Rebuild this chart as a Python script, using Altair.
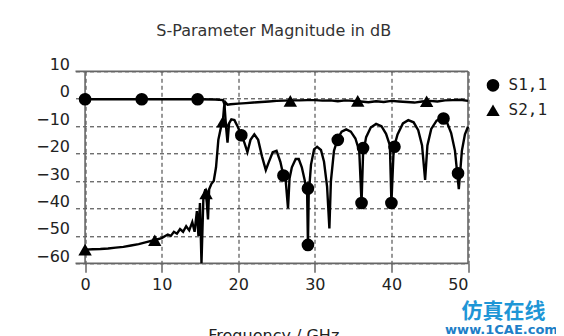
import altair as alt
import pandas as pd

# ---------------- data ----------------
s21_freq = [0, 1, 2, 3, 4, 5, 6, 7, 8, 9, 10, 10.8, 11.2, 11.6, 12.0, 12.4, 12.8, 13.2, 13.6,
            14.0, 14.3, 14.6, 14.8, 15.0, 15.2, 15.45, 15.7, 15.9, 16.05, 16.2, 16.5, 16.8,
            17.1, 17.4, 17.7, 18.0, 18.15, 18.3, 18.6, 19.0, 20, 21, 22, 23, 24, 25, 26, 27,
            28, 29, 30, 31, 32, 33, 34, 35, 36, 37, 38, 39, 40, 41, 42, 43, 44, 45, 46, 47,
            48, 49, 50]
s21_db = [-55, -54.9, -54.8, -54.6, -54.3, -54, -53.5, -53, -52.3, -51.6, -50.8, -49.5, -50,
          -48.5, -49.2, -47.5, -48.5, -46.5, -48, -45, -48.5, -41, -50, -38, -60, -36, -33,
          -38, -44, -33, -31, -30, -25, -15, -11, -8, -3, -1.2, -2.2, -2.0, -1.8, -1.6, -1.4,
          -1.2, -1.0, -0.8, -0.7, -0.6, -0.6, -0.5, -0.5, -0.7, -0.6, -0.9, -0.6, -0.8, -1.0,
          -1.3, -0.9, -1.2, -0.8, -1.0, -1.2, -1.4, -1.0, -0.8, -1.0, -0.6, -0.5, -0.4, -0.8]

s11_freq = [0, 5, 10, 15, 17, 18.0, 18.2, 18.4, 18.6, 18.8, 19.1, 19.5, 19.9, 20.4, 20.8,
            21.2, 21.6, 22.1, 22.6, 23.1, 23.6, 24.0, 24.5, 25.0, 25.5, 25.9, 26.2, 26.5,
            26.7, 27.0, 27.5, 27.9, 28.3, 28.7, 29.0, 29.1, 29.2, 29.5, 29.9, 30.3, 30.8,
            31.2, 31.6, 31.9, 32.1, 32.5, 33.0, 33.5, 34.1, 34.7, 35.3, 35.8, 36.1, 36.3,
            36.7, 37.3, 38.0, 38.7, 39.3, 39.8, 40.0, 40.3, 40.8, 41.5, 42.2, 42.9, 43.5,
            44.0, 44.4, 44.7, 45.2, 45.9, 46.6, 47.2, 47.8, 48.3, 48.8, 49.2, 49.6, 50]
s11_db = [-0.2, -0.2, -0.2, -0.2, -0.3, -0.5, -2, -10, -16, -9, -7.5, -7.8, -10, -13.3, -16,
          -19.5, -15, -13, -15, -21, -26, -23, -19.5, -19, -23, -28, -30, -40, -29, -25, -22,
          -22, -25, -30, -35, -53.3, -35, -24, -18.5, -17.5, -18.7, -23, -32, -47.3, -30,
          -19, -14.5, -12, -11.2, -12, -14.5, -19, -38, -20, -14, -10.5, -9.2, -10, -12.8,
          -17, -38, -18, -13, -9, -7.8, -8.6, -11.5, -17, -29.6, -17, -11, -8, -7, -8.2,
          -12.5, -19, -33, -19, -13, -10.2]

s11_mark_freq = [0, 7.4, 14.7, 20.4, 25.9, 29.1, 29.1, 33.0, 36.3, 36.1, 40.4, 40.0, 46.8, 48.7]
s11_mark_db = [-0.2, -0.2, -0.2, -13.3, -28, -32.7, -53.3, -15, -18, -38, -17.5, -38, -7.2, -27.2]

s21_mark_freq = [0, 9.1, 15.8, 18.0, 26.8, 35.6, 44.6]
s21_mark_db = [-55, -51.6, -34.5, -8.4, -0.8, -0.8, -0.9]

x_ticks = [0, 10, 20, 30, 40, 50]
y_ticks = [10, 0, -10, -20, -30, -40, -50, -60]
x_domain = [-1.25, 50]
y_domain = [-60, 10]

legend_labels = ["S1,1", "S2,1"]
title_text = "S-Parameter Magnitude in dB"
x_title_text = "Frequency / GHz"
wm_cn = "仿真在线"
wm_en = "www.1CAE.com"

# ---------------- chart ----------------
W, H = 392.5, 192
FONT = "DejaVu Sans"
GRID = "#333333"
FRAME = "#666666"

xs = alt.Scale(domain=x_domain, nice=False, zero=False)
ys = alt.Scale(domain=y_domain, nice=False, zero=False)
xaxis = alt.Axis(values=x_ticks, grid=True, gridDash=[4, 3], gridColor=GRID, gridWidth=1,
                 domain=False, ticks=True, tickSize=9, tickColor=FRAME, tickWidth=1.5,
                 labelFont=FONT, labelFontSize=16, labelColor="#222222", labelPadding=4,
                 title=None)
yaxis = alt.Axis(values=y_ticks, grid=True, gridDash=[4, 3], gridColor=GRID, gridWidth=1,
                 domain=False, ticks=False, labelFont=FONT, labelFontSize=16,
                 labelColor="#222222", labelPadding=6, labelOffset=-7, title=None)


def X(field):
    return alt.X(field, type="quantitative", scale=xs, axis=xaxis)


def Y(field):
    return alt.Y(field, type="quantitative", scale=ys, axis=yaxis)


s11_df = pd.DataFrame({"f": s11_freq, "db": s11_db, "i": range(len(s11_freq))})
s21_df = pd.DataFrame({"f": s21_freq, "db": s21_db, "i": range(len(s21_freq))})
s11_m = pd.DataFrame({"f": s11_mark_freq, "db": s11_mark_db})
s21_m = pd.DataFrame({"f": s21_mark_freq, "db": s21_mark_db})

hframe = pd.DataFrame({"x1": [x_domain[0]] * 2, "x2": [x_domain[1]] * 2, "y": y_domain})
vframe = pd.DataFrame({"x": [0, x_domain[1]], "y1": [y_domain[0]] * 2, "y2": [y_domain[1]] * 2})

frame_h = alt.Chart(hframe).mark_rule(color=FRAME, strokeWidth=1.8).encode(
    x=X("x1"), x2="x2", y=Y("y"))
frame_v = alt.Chart(vframe).mark_rule(color=FRAME, strokeWidth=1.6).encode(
    x=X("x"), y=Y("y1"), y2="y2")

line21 = alt.Chart(s21_df).mark_line(color="black", strokeWidth=2.4).encode(
    x=X("f"), y=Y("db"), order="i:Q")
line11 = alt.Chart(s11_df).mark_line(color="black", strokeWidth=2.4).encode(
    x=X("f"), y=Y("db"), order="i:Q")
pts11 = alt.Chart(s11_m).mark_point(shape="circle", filled=True, opacity=1, size=160,
                                    color="black").encode(x=X("f"), y=Y("db"))
pts21 = alt.Chart(s21_m).mark_point(shape="triangle-up", filled=True, opacity=1, size=180,
                                    color="black").encode(x=X("f"), y=Y("db"))

leg1 = pd.DataFrame({"t": [legend_labels[0]]})
leg2 = pd.DataFrame({"t": [legend_labels[1]]})
leg_c = alt.Chart(leg1).mark_point(
    shape="circle", filled=True, opacity=1, size=160, color="black").encode(
    x=alt.value(417.5), y=alt.value(14))
leg_t = alt.Chart(leg2).mark_point(
    shape="triangle-up", filled=True, opacity=1, size=180, color="black").encode(
    x=alt.value(417.5), y=alt.value(39))
leg_txt1 = alt.Chart(leg1).mark_text(
    font="DejaVu Sans Mono", fontSize=16, color="#222222", align="left",
    baseline="middle").encode(text="t:N", x=alt.value(433), y=alt.value(14))
leg_txt2 = alt.Chart(leg2).mark_text(
    font="DejaVu Sans Mono", fontSize=16, color="#222222", align="left",
    baseline="middle").encode(text="t:N", x=alt.value(433), y=alt.value(39))

title = alt.Chart(pd.DataFrame({"t": [title_text]})).mark_text(
    font=FONT, fontSize=16, color="#333333", align="center",
    baseline="alphabetic").encode(text="t:N", x=alt.value(W / 2 + 2), y=alt.value(-35))
xt = alt.Chart(pd.DataFrame({"t": [x_title_text]})).mark_text(
    font=FONT, fontSize=16, color="#222222", align="center", baseline="top").encode(
    text="t:N", x=alt.value(W / 2 + 2), y=alt.value(257))
wm1 = alt.Chart(pd.DataFrame({"t": [wm_cn]})).mark_text(
    font="Noto Sans CJK SC", fontSize=21, fontWeight="bold", color="#1e96d6",
    align="center", baseline="alphabetic").encode(
    text="t:N", x=alt.value(428), y=alt.value(246.5))
wm2 = alt.Chart(pd.DataFrame({"t": [wm_en]})).mark_text(
    font=FONT, fontSize=13, fontWeight="bold", color="#1e7fc8",
    align="center", baseline="alphabetic").encode(
    text="t:N", x=alt.value(426), y=alt.value(262.5))

chart = alt.layer(frame_h, frame_v, line21, line11, pts11, pts21,
                  leg_c, leg_t, leg_txt1, leg_txt2, title, xt, wm1, wm2).properties(
    width=W, height=H,
    padding={"left": 67.5, "top": 63.3, "right": 88, "bottom": 72.7},
    autosize=alt.AutoSizeParams(type="none"),
    background="white",
).configure_view(strokeWidth=0)

chart.save("out.html", embed_options={"renderer": "svg", "actions": False})
